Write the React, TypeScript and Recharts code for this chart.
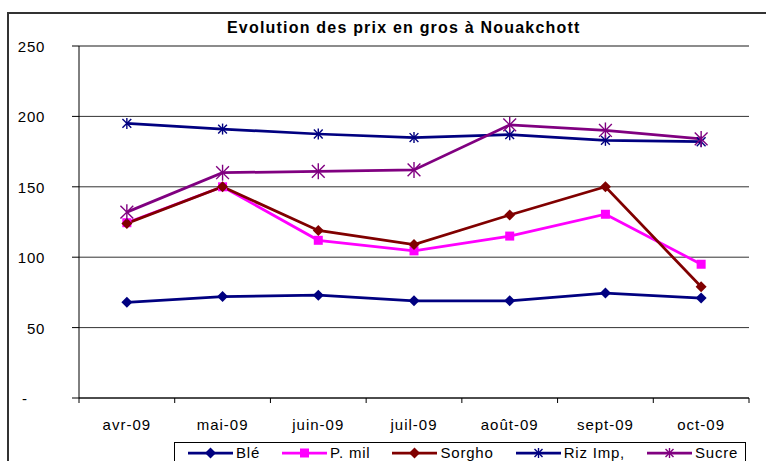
import React from 'react'
import {
  LineChart,
  Line,
  XAxis,
  YAxis,
  CartesianGrid,
  ReferenceLine,
} from 'recharts'

const months = ['avr-09', 'mai-09', 'juin-09', 'juil-09', 'août-09', 'sept-09', 'oct-09']
const ble = [68, 72, 73, 69, 69, 74.5, 71]
const pmil = [124.5, 150, 112, 104.5, 115, 130.5, 95]
const sorgho = [124, 150, 119, 109, 130, 150, 79]
const riz = [195, 191, 187.5, 185, 187, 183, 182]
const sucre = [132, 160, 161, 162, 194, 190, 184]
const yTicks = [0, 50, 100, 150, 200, 250]

const FONT = '"Liberation Sans", Arial, sans-serif'

type MarkerKind = 'diamond' | 'square' | 'star'

const series: { key: string; name: string; color: string; marker: MarkerKind; size: number }[] = [
  { key: 'ble', name: 'Blé', color: '#000080', marker: 'diamond', size: 5.5 },
  { key: 'pmil', name: 'P. mil', color: '#FF00FF', marker: 'square', size: 4.5 },
  { key: 'sorgho', name: 'Sorgho', color: '#800000', marker: 'diamond', size: 5.5 },
  { key: 'riz', name: 'Riz Imp,', color: '#000080', marker: 'star', size: 5.5 },
  { key: 'sucre', name: 'Sucre', color: '#800080', marker: 'star', size: 8 },
]

const data = months.map((m, i) => ({
  month: m,
  ble: ble[i],
  pmil: pmil[i],
  sorgho: sorgho[i],
  riz: riz[i],
  sucre: sucre[i],
}))

function Marker({ cx, cy, kind, r, color }: { cx: number; cy: number; kind: MarkerKind; r: number; color: string }) {
  if (kind === 'diamond') {
    return (
      <polygon
        points={`${cx},${cy - r} ${cx + r},${cy} ${cx},${cy + r} ${cx - r},${cy}`}
        fill={color}
      />
    )
  }
  if (kind === 'square') {
    return <rect x={cx - r} y={cy - r} width={r * 2} height={r * 2} fill={color} />
  }
  const d = r * 0.8
  return (
    <g stroke={color} strokeWidth={1.4}>
      <line x1={cx} y1={cy - r} x2={cx} y2={cy + r} />
      <line x1={cx - d} y1={cy - d} x2={cx + d} y2={cy + d} />
      <line x1={cx - d} y1={cy + d} x2={cx + d} y2={cy - d} />
    </g>
  )
}

const PLOT_W = 670
const HALF_STEP = PLOT_W / months.length / 2

function MonthTick(props: any) {
  const { x, y, payload, index } = props
  const half = payload?.offset ? payload.offset : HALF_STEP
  return (
    <g>
      <line x1={x - half} x2={x - half} y1={y} y2={y + 5} stroke="#000" />
      {index === months.length - 1 && (
        <line x1={x + half} x2={x + half} y1={y} y2={y + 5} stroke="#000" />
      )}
      <text
        x={x}
        y={y + 32}
        textAnchor="middle"
        fontSize={15}
        letterSpacing={1}
        fontFamily={FONT}
        fill="#000"
      >
        {payload.value}
      </text>
    </g>
  )
}

function ValueTick(props: any) {
  const { x, y, payload } = props
  const zero = payload.value === 0
  return (
    <text
      x={zero ? x - 23 : x}
      y={y + 6}
      textAnchor={zero ? 'start' : 'end'}
      fontSize={15}
      letterSpacing={0.7}
      fontFamily={FONT}
      fill="#000"
    >
      {zero ? '-' : payload.value}
    </text>
  )
}

function LegendIcon({ color, kind, r }: { color: string; kind: MarkerKind; r: number }) {
  const size = kind === 'star' ? 5 : r
  return (
    <svg width={45} height={16} style={{ display: 'block' }}>
      <line x1={0} x2={45} y1={8} y2={8} stroke={color} strokeWidth={2.75} />
      <Marker cx={22.5} cy={8} kind={kind} r={size} color={color} />
    </svg>
  )
}

export default function App() {
  return (
    <div
      style={{
        position: 'absolute',
        left: 0,
        top: 0,
        width: 766,
        height: 461,
        overflow: 'hidden',
        background: '#fff',
        fontFamily: FONT,
      }}
    >
      <div
        style={{
          position: 'absolute',
          left: 7,
          top: 12,
          width: 900,
          height: 600,
          border: '2px solid #333',
        }}
      />
      <div
        style={{
          position: 'absolute',
          left: 227,
          top: 19,
          fontSize: 16,
          fontWeight: 'bold',
          letterSpacing: 1.2,
          whiteSpace: 'nowrap',
        }}
      >
        Evolution des prix en gros à Nouakchott
      </div>
      <div style={{ position: 'absolute', left: 0, top: 0 }}>
        <LineChart
          width={766}
          height={461}
          data={data}
          margin={{ top: 46, right: 17, left: 19, bottom: 33 }}
        >
          <CartesianGrid vertical={false} stroke="#333" strokeDasharray="0" />
          <XAxis
            dataKey="month"
            scale="band"
            height={30}
            tickLine={false}
            tickSize={0}
            tickMargin={0}
            interval={0}
            axisLine={{ stroke: '#000' }}
            tick={<MonthTick />}
          />
          <YAxis
            domain={[0, 250]}
            ticks={yTicks}
            width={60}
            tickSize={7}
            tickMargin={27}
            tickLine={{ stroke: '#000' }}
            axisLine={{ stroke: '#000' }}
            tick={<ValueTick />}
          />
          <YAxis
            yAxisId="frame"
            orientation="right"
            domain={[0, 250]}
            width={0}
            tick={false}
            tickLine={false}
            axisLine={{ stroke: '#8c8c8c', strokeWidth: 2 }}
          />
          <ReferenceLine y={250} stroke="#8c8c8c" strokeWidth={2} />
          {series.map((s) => (
            <Line
              key={s.key}
              dataKey={s.key}
              name={s.name}
              type="linear"
              stroke={s.color}
              strokeWidth={2.75}
              isAnimationActive={false}
              activeDot={false}
              dot={(p: any) => (
                <Marker
                  key={`${s.key}-${p.index}`}
                  cx={p.cx}
                  cy={p.cy}
                  kind={s.marker}
                  r={s.size}
                  color={s.color}
                />
              )}
            />
          ))}
        </LineChart>
      </div>
      <div
        style={{
          position: 'absolute',
          left: 174,
          top: 442,
          width: 572,
          height: 40,
          border: '1px solid #000',
          boxSizing: 'border-box',
          display: 'flex',
          alignItems: 'flex-start',
          paddingLeft: 13,
          paddingTop: 2,
          gap: 22,
          fontSize: 15,
          letterSpacing: 0.8,
          background: '#fff',
        }}
      >
        {series.map((s) => (
          <div key={s.key} style={{ display: 'flex', alignItems: 'center', gap: 3 }}>
            <LegendIcon color={s.color} kind={s.marker} r={s.size} />
            <span style={{ whiteSpace: 'nowrap', lineHeight: '16px' }}>{s.name}</span>
          </div>
        ))}
      </div>
    </div>
  )
}
